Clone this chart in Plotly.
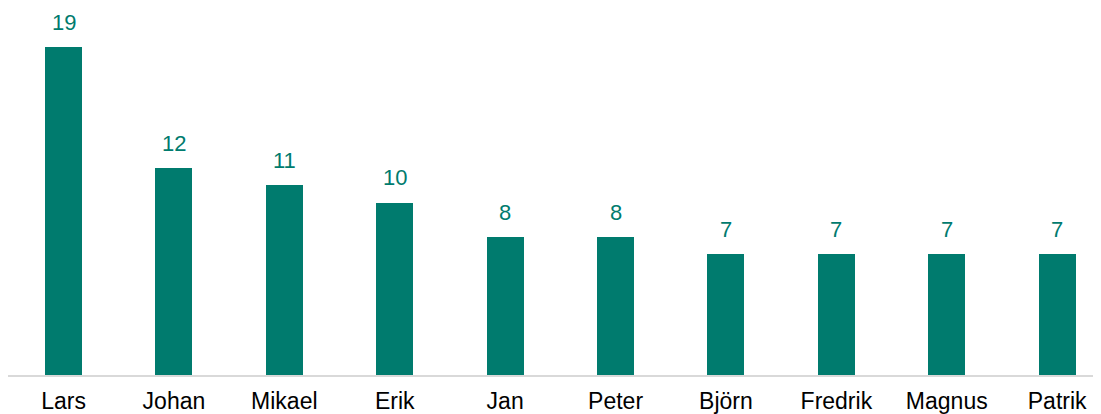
import plotly.graph_objects as go

names = ["Lars", "Johan", "Mikael", "Erik", "Jan", "Peter", "Björn", "Fredrik", "Magnus", "Patrik"]
counts = [19, 12, 11, 10, 8, 8, 7, 7, 7, 7]

teal = "#007B6E"

fig = go.Figure()
fig.add_trace(go.Bar(
    x=list(range(len(names))), y=counts,
    marker=dict(color=teal, line=dict(width=0)),
    width=0.335,
    hoverinfo="skip",
))

for i, v in enumerate(counts):
    fig.add_annotation(
        x=i, y=v, text=str(v), showarrow=False,
        yanchor="middle", yshift=25,
        font=dict(family="Liberation Sans, Arial", size=22, color=teal),
    )

fig.update_layout(
    width=1093, height=406,
    margin=dict(l=0, r=0, t=0, b=39, autoexpand=False),
    plot_bgcolor="white", paper_bgcolor="white",
    showlegend=False,
    bargap=0,
    xaxis=dict(
        tickmode="array", tickvals=list(range(len(names))), ticktext=names,
        range=[-0.503, 9.397],
        showgrid=False, zeroline=False,
        showline=True, linecolor="#D9D9D9", linewidth=1.5,
        ticks="outside", ticklen=5, tickcolor="rgba(0,0,0,0)",
        tickfont=dict(family="Liberation Sans, Arial", size=23, color="#000000"),
        automargin=False,
    ),
    yaxis=dict(
        range=[0, 367 / 17.25],
        showgrid=False, zeroline=False, showline=False,
        showticklabels=False, ticks="",
    ),
)

fig.write_html("out.html")
